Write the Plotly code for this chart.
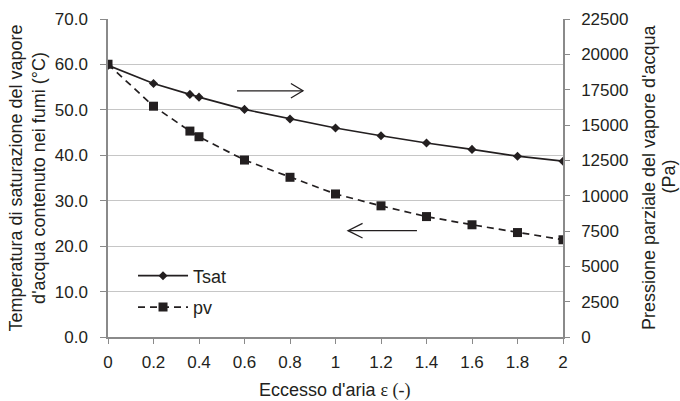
import plotly.graph_objects as go

# Data
eps = [0, 0.2, 0.36, 0.4, 0.6, 0.8, 1.0, 1.2, 1.4, 1.6, 1.8, 2.0]
tsat = [59.8, 55.8, 53.4, 52.8, 50.1, 48.0, 46.0, 44.3, 42.7, 41.3, 39.8, 38.7]
pv = [19300, 16330, 14570, 14170, 12520, 11300, 10120, 9280, 8520, 7940, 7390, 6880]

left_ticks = [0, 10, 20, 30, 40, 50, 60, 70]
right_ticks = [0, 2500, 5000, 7500, 10000, 12500, 15000, 17500, 20000, 22500]
x_ticks = [0, 0.2, 0.4, 0.6, 0.8, 1, 1.2, 1.4, 1.6, 1.8, 2]

INK = "#231f20"
AX = "#8a8a8a"
GRID = "#c6c6c6"
FONT = "Liberation Sans, Arial, sans-serif"
TICKF = dict(size=17, color=INK)
TITLEF = dict(size=18, color=INK)

fig = go.Figure()
fig.add_trace(go.Scatter(
    x=eps, y=tsat, name="Tsat", mode="lines+markers",
    line=dict(color=INK, width=1.7),
    marker=dict(symbol="diamond", size=7, color=INK),
    yaxis="y", legendgroup="a"))
fig.add_trace(go.Scatter(
    x=eps, y=pv, name="pv", mode="lines+markers",
    line=dict(color=INK, width=1.7, dash="7px,5px"),
    marker=dict(symbol="square", size=9, color=INK),
    yaxis="y2", legendgroup="b"))

# Arrows (in left-axis data units)
arrow_style = dict(color=INK, width=1.3)
fig.add_shape(type="line", xref="x", yref="y", x0=0.567, x1=0.857, y0=54.2, y1=54.2, line=arrow_style)
fig.add_shape(type="path", xref="x", yref="y",
              path="M 0.804 55.8 L 0.857 54.2 L 0.804 52.6", line=arrow_style)
fig.add_shape(type="line", xref="x", yref="y", x0=1.055, x1=1.358, y0=23.4, y1=23.4, line=arrow_style)
fig.add_shape(type="path", xref="x", yref="y",
              path="M 1.119 25.0 L 1.055 23.4 L 1.119 21.8", line=arrow_style)

# Axis titles placed as annotations for precise positioning
fig.add_annotation(text="Eccesso d'aria <span style='font-family:Liberation Serif'>ε (-)</span>",
                   xref="paper", yref="paper", x=0.499, y=-0.167,
                   xanchor="center", yanchor="middle", showarrow=False, font=TITLEF)
fig.add_annotation(text="Pressione parziale del vapore d'acqua",
                   xref="paper", yref="paper", x=1.189, y=0.503, textangle=-90,
                   xanchor="center", yanchor="middle", showarrow=False, font=TITLEF)
fig.add_annotation(text="(Pa)",
                   xref="paper", yref="paper", x=1.232, y=0.503, textangle=-90,
                   xanchor="center", yanchor="middle", showarrow=False, font=TITLEF)

fig.update_layout(
    width=680, height=401,
    margin=dict(l=108, r=117, t=19, b=64),
    paper_bgcolor="white", plot_bgcolor="white",
    font=dict(family=FONT, size=17, color=INK),
    showlegend=True,
    legend=dict(x=0.055, y=0.25, xanchor="left", yanchor="top",
                bgcolor="rgba(0,0,0,0)", font=dict(size=18, color=INK),
                traceorder="grouped", tracegroupgap=5, itemwidth=50),
    xaxis=dict(range=[0, 2], tickvals=x_ticks, ticktext=[f"{v:g}" for v in x_ticks],
               showgrid=False, zeroline=False, showline=True, linecolor=AX, linewidth=1.5,
               ticks="outside", ticklen=5, tickcolor=AX, tickfont=TICKF, ticklabelstandoff=4,
               automargin=False),
    yaxis=dict(range=[0, 70], tickvals=left_ticks, ticktext=[f"{v:.1f}" for v in left_ticks],
               showgrid=True, gridcolor=GRID, gridwidth=1, zeroline=False,
               showline=True, linecolor=AX, linewidth=1.5,
               ticks="outside", ticklen=6, tickcolor=AX, tickfont=TICKF, ticklabelstandoff=9,
               automargin=False,
               title=dict(text="Temperatura di saturazione del vapore<br>d'acqua contenuto nei fumi (°C)",
                          font=TITLEF, standoff=4)),
    yaxis2=dict(range=[0, 22500], tickvals=right_ticks, ticktext=[str(v) for v in right_ticks],
                overlaying="y", side="right", showgrid=False, zeroline=False,
                showline=True, linecolor=AX, linewidth=1.5,
                ticks="outside", ticklen=5, tickcolor=AX, tickfont=TICKF, ticklabelstandoff=8,
                automargin=False),
)

fig.write_html("out.html")
